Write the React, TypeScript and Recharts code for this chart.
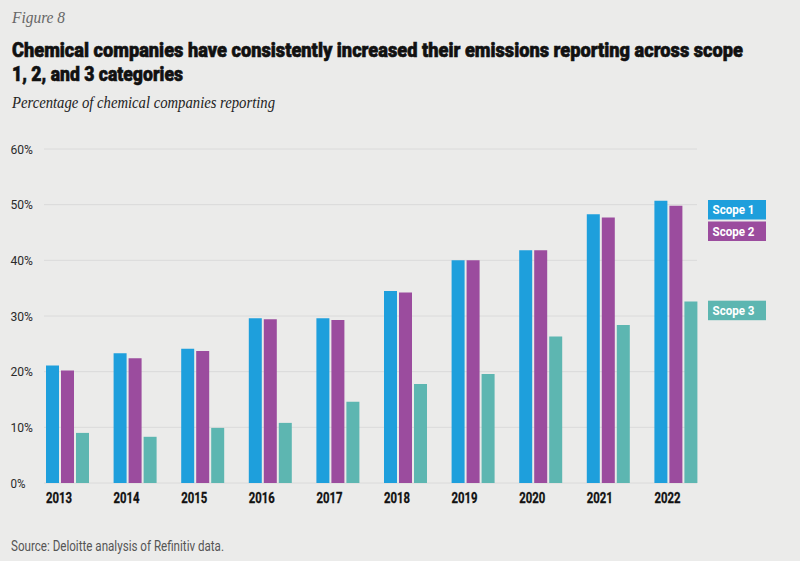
import React from "react";
import { BarChart, Bar, XAxis, YAxis, CartesianGrid } from "recharts";

const years = ["2013", "2014", "2015", "2016", "2017", "2018", "2019", "2020", "2021", "2022"];
const scope1 = [21.1, 23.3, 24.1, 29.6, 29.6, 34.5, 40.0, 41.8, 48.3, 50.7];
const scope2 = [20.2, 22.4, 23.7, 29.4, 29.3, 34.2, 40.0, 41.8, 47.7, 49.8];
const scope3 = [9.0, 8.3, 9.9, 10.8, 14.6, 17.8, 19.6, 26.3, 28.4, 32.6];
const yTicks = [0, 10, 20, 30, 40, 50, 60];

const data = years.map((y, i) => ({ year: y, s1: scope1[i], s2: scope2[i], s3: scope3[i] }));

const BG = "#ebebea";
const BLUE = "#1e9fdc";
const PURPLE = "#9b4c9e";
const TEAL = "#5db6b1";

const YTick = (props: any) => {
  const { y, payload } = props;
  const label = `${payload.value}%`;
  return (
    <text x={10.5} y={y + 4.6} textAnchor="start" fontFamily="Roboto" fontSize={13} fill="#2a2a2a" textLength={payload.value === 0 ? 15 : 22.5} lengthAdjust="spacingAndGlyphs">
      {label}
    </text>
  );
};

const XTick = (props: any) => {
  const { x, payload } = props;
  return (
    <text x={x - 21.8} y={502.6} textAnchor="start" fontFamily="Roboto" fontWeight={700} fontSize={14} fill="#111" stroke="#111" strokeWidth={0.3} textLength={26} lengthAdjust="spacingAndGlyphs">
      {payload.value}
    </text>
  );
};

const legendItems = [
  { label: "Scope 1", color: BLUE, top: 200 },
  { label: "Scope 2", color: PURPLE, top: 221.5 },
  { label: "Scope 3", color: TEAL, top: 300.7 },
];

export default function App() {
  return (
    <div style={{ position: "absolute", left: 0, top: 0, width: 800, height: 561, background: BG, overflow: "hidden" }}>
      <BarChart
        width={800}
        height={561}
        data={data}
        margin={{ top: 149, right: 90, bottom: 48, left: 10 }}
        barSize={13}
        barGap={2}
      >
        <CartesianGrid horizontal={true} vertical={false} stroke="#dadada" strokeWidth={1} x={44} width={653} />
        <XAxis dataKey="year" height={30} axisLine={false} tickLine={false} tick={<XTick />} interval={0} />
        <YAxis width={24} domain={[0, 60]} ticks={yTicks} axisLine={false} tickLine={false} tick={<YTick />} />
        <Bar dataKey="s1" fill={BLUE} isAnimationActive={false} />
        <Bar dataKey="s2" fill={PURPLE} isAnimationActive={false} />
        <Bar dataKey="s3" fill={TEAL} isAnimationActive={false} />
      </BarChart>
      <svg width={800} height={561} style={{ position: "absolute", left: 0, top: 0, pointerEvents: "none" }}>
        <text x={12} y={23} fontFamily="Liberation Serif" fontStyle="italic" fontSize={16} fill="#666" textLength={53} lengthAdjust="spacingAndGlyphs">Figure 8</text>
        <text x={12} y={56.7} fontFamily="Roboto" fontWeight={900} fontSize={19.5} fill="#111" stroke="#111" strokeWidth={0.6} textLength={731} lengthAdjust="spacingAndGlyphs">
          Chemical companies have consistently increased their emissions reporting across scope
        </text>
        <text x={12} y={80.5} fontFamily="Roboto" fontWeight={900} fontSize={19.5} fill="#111" stroke="#111" strokeWidth={0.6} textLength={171} lengthAdjust="spacingAndGlyphs">
          1, 2, and 3 categories
        </text>
        <text x={12} y={107.5} fontFamily="Liberation Serif" fontStyle="italic" fontSize={16} fill="#222" textLength={263} lengthAdjust="spacingAndGlyphs">
          Percentage of chemical companies reporting
        </text>
        <text x={11} y={550.5} fontFamily="Roboto" fontSize={14} fill="#555" textLength={213} lengthAdjust="spacingAndGlyphs">
          Source: Deloitte analysis of Refinitiv data.
        </text>
        {legendItems.map((it) => (
          <g key={it.label}>
            <rect x={708} y={it.top} width={58} height={19.5} fill={it.color} />
            <text x={712.5} y={it.top + 14} fontFamily="Roboto" fontWeight={700} fontSize={13.5} fill="#fff" textLength={42} lengthAdjust="spacingAndGlyphs">
              {it.label}
            </text>
          </g>
        ))}
      </svg>
    </div>
  );
}
